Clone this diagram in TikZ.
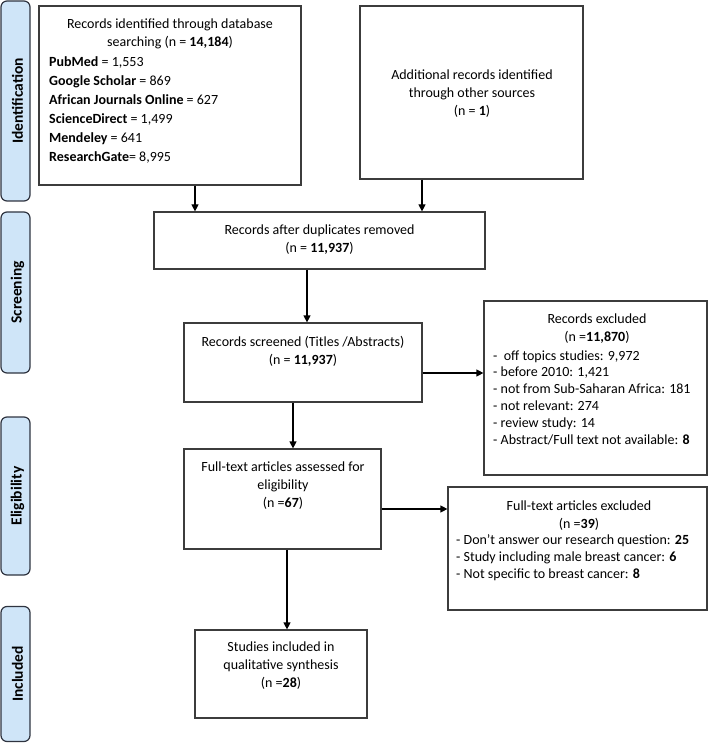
\documentclass[tikz,border=0pt]{standalone}
\usepackage{fontspec}
\setmainfont{Carlito}
\usetikzlibrary{arrows.meta}
\definecolor{sidefill}{HTML}{CFE5F8}
\definecolor{sideline}{HTML}{2F3440}
\definecolor{boxline}{HTML}{3C3C3C}
\tikzset{
  box/.style={draw=boxline, line width=1.2pt, fill=white, inner sep=0pt},
  side/.style={draw=sideline, line width=1.2pt, fill=sidefill, rounded corners=6pt, minimum width=29pt, inner sep=0pt},
  sidetxt/.style={rotate=90, font=\fontsize{15.5}{18}\selectfont\bfseries, text=black},
  txt/.style={font=\fontsize{14}{18}\selectfont, align=center, inner sep=0pt},
  ltxt/.style={font=\fontsize{14}{16.8}\selectfont, align=left, inner sep=0pt},
  arr/.style={draw=black, line width=1.2pt, -{Triangle[length=7pt,width=7pt]}}
}
\begin{document}
\begin{tikzpicture}[x=1pt,y=-1pt]
\useasboundingbox (0,0) rectangle (709,743);
% side bars
\node[side, minimum height=200pt] (sid) at (15.5,101) {};
\node[sidetxt] (sidt) at (17.5,101) {Identification};
\node[side, minimum height=161pt] (sscr) at (15.5,292.5) {};
\node[sidetxt] (sscrt) at (17.5,292.5) {Screening};
\node[side, minimum height=158pt] (sel) at (15.5,496) {};
\node[sidetxt] (selt) at (17.5,496) {Eligibility};
\node[side, minimum height=135pt] (sinc) at (15.5,674) {};
\node[sidetxt] (sinct) at (17.5,674) {Included};

% box 1
\node[box, minimum width=262pt, minimum height=179pt] (b1) at (170,95.5) {};
\node[txt] (b1h) at (170,34) {Records identified through database\\searching (n = \textbf{14,184})};
\node[ltxt, anchor=west, font=\fontsize{14}{19}\selectfont] (b1l) at (49,109.5) {\textbf{PubMed} = 1,553\\\textbf{Google Scholar} = 869\\\textbf{African Journals Online} = 627\\\textbf{ScienceDirect} = 1,499\\\textbf{Mendeley} = 641\\\textbf{ResearchGate}= 8,995};

% box 2
\node[box, minimum width=223pt, minimum height=173pt] (b2) at (471.5,92.5) {};
\node[txt] (b2t) at (472,93.5) {Additional records identified\\through other sources\\(n = \textbf{1})};

% box 3
\node[box, minimum width=331pt, minimum height=57pt] (b3) at (319.5,240.5) {};
\node[txt] (b3t) at (319.5,240) {Records after duplicates removed\\(n = \textbf{11,937})};

% box 4
\node[box, minimum width=238pt, minimum height=79pt] (b4) at (303,362.5) {};
\node[txt] (b4t) at (303,351) {Records screened (Titles /Abstracts)\\(n = \textbf{11,937})};

% excluded 1
\node[box, minimum width=223pt, minimum height=174pt] (ex1) at (595.5,388) {};
\node[txt] (ex1h) at (597,328.5) {Records excluded\\(n =\textbf{11,870})};
\node[ltxt, anchor=west] (ex1l) at (493,397.5) {-\ \ off topics studies: 9,972\\- before 2010: 1,421\\- not from Sub-Saharan Africa: 181\\- not relevant: 274\\- review study: 14\\- Abstract/Full text not available: \textbf{8}};

% box 5
\node[box, minimum width=197pt, minimum height=100pt] (b5) at (282.5,499) {};
\node[txt] (b5t) at (283,485.5) {Full-text articles assessed for\\eligibility\\(n =\textbf{67})};

% excluded 2
\node[box, minimum width=259pt, minimum height=123pt] (ex2) at (577.5,548.5) {};
\node[txt] (ex2h) at (579,515.5) {Full-text articles excluded\\(n =\textbf{39})};
\node[ltxt, anchor=west] (ex2l) at (456,557.5) {- Don’t answer our research question: \textbf{25}\\- Study including male breast cancer: \textbf{6}\\- Not specific to breast cancer: \textbf{8}};

% box 6
\node[box, minimum width=172pt, minimum height=88pt] (b6) at (281,674) {};
\node[txt] (b6t) at (281,666) {Studies included in\\qualitative synthesis\\(n =\textbf{28})};

% arrows
\draw[arr] ([xshift=25pt]b1.south) -- ([xshift=25pt]b1.south |- b3.north);
\draw[arr] ([xshift=-49.5pt]b2.south) -- ([xshift=-49.5pt]b2.south |- b3.north);
\draw[arr] ([xshift=-12.5pt]b3.south) -- ([xshift=-12.5pt]b3.south |- b4.north);
\draw[arr] ([xshift=-10pt]b4.south) -- ([xshift=-10pt]b4.south |- b5.north);
\draw[arr] ([xshift=4.5pt]b5.south) -- ([xshift=4.5pt]b5.south |- b6.north);
\draw[arr] ([yshift=-10.5pt]b4.east) -- ([yshift=-10.5pt]b4.east -| ex1.west);
\draw[arr] ([yshift=-10pt]b5.east) -- ([yshift=-10pt]b5.east -| ex2.west);
\end{tikzpicture}
\end{document}
